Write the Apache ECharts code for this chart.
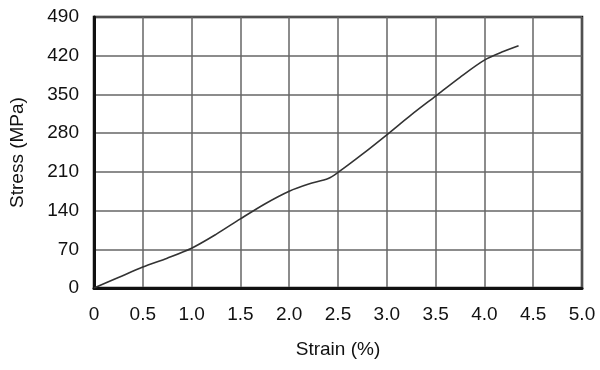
<!DOCTYPE html>
<html><head><meta charset="utf-8">
<script src="https://cdn.jsdelivr.net/npm/echarts@6/dist/echarts.min.js"></script>
<style>html,body{margin:0;padding:0;background:#fff}#c{width:600px;height:370px}</style>
</head><body><div id="c"></div>
<script>
const strain = [0, 0.25, 0.5, 0.75, 1.0, 1.25, 1.5, 1.75, 2.0, 2.2, 2.4, 2.5, 2.75, 3.0, 3.25, 3.5, 3.75, 4.0, 4.2, 4.35];
const stress = [0, 19, 38, 54, 72, 97, 125, 152, 175, 188, 198, 209, 242, 277, 313, 347, 381, 412, 428, 438];
const xTicks = [0, 0.5, 1.0, 1.5, 2.0, 2.5, 3.0, 3.5, 4.0, 4.5, 5.0];
const yTicks = [0, 70, 140, 210, 280, 350, 420, 490];
const xName = 'Strain (%)';
const yName = 'Stress (MPa)';

const font = 'Liberation Sans, Arial, sans-serif';
const chart = echarts.init(document.getElementById('c'), null, {renderer: 'canvas'});
chart.setOption({
  animation: false,
  grid: {left: 93, right: 18, top: 17, bottom: 82, show: true, borderColor: '#111', borderWidth: 2.5, backgroundColor: 'transparent'},
  xAxis: {
    type: 'value', min: xTicks[0], max: xTicks[xTicks.length - 1], interval: 0.5,
    name: xName, nameLocation: 'middle', nameGap: 52,
    nameTextStyle: {fontFamily: font, fontSize: 19, color: '#111'},
    axisLine: {show: true, lineStyle: {color: '#111', width: 3}},
    axisTick: {show: false},
    axisLabel: {fontFamily: font, fontSize: 19, color: '#111', margin: 17,
      formatter: v => v === 0 ? '0' : v.toFixed(1)},
    splitLine: {show: true, lineStyle: {color: '#666', width: 1.5}}
  },
  yAxis: {
    type: 'value', min: yTicks[0], max: yTicks[yTicks.length - 1], interval: 70,
    name: yName, nameLocation: 'middle', nameGap: 67,
    nameTextStyle: {fontFamily: font, fontSize: 19, color: '#111'},
    axisLine: {show: true, lineStyle: {color: '#111', width: 3}},
    axisTick: {show: false},
    axisLabel: {fontFamily: font, fontSize: 19, color: '#111', margin: 15},
    splitLine: {show: true, lineStyle: {color: '#666', width: 1.5}}
  },
  series: [{
    type: 'line', data: strain.map((s, i) => [s, stress[i]]),
    smooth: 0.3, showSymbol: false, symbol: 'none',
    lineStyle: {color: '#333', width: 1.6}
  }]
});
</script></body></html>
